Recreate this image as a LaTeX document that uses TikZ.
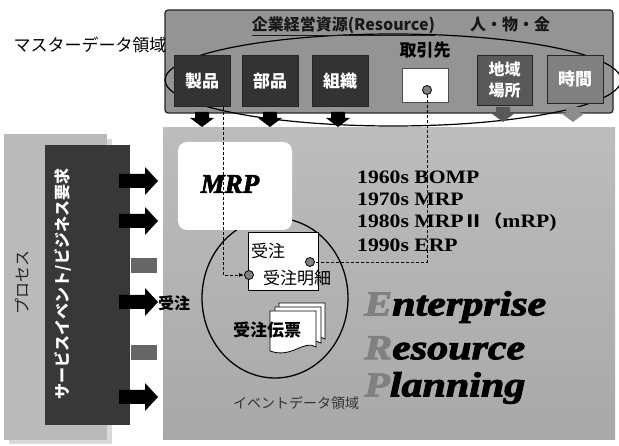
\documentclass[tikz,border=0pt]{standalone}
\usepackage{fontspec}
\setmainfont{Liberation Serif}
\newfontfamily\jp{Noto Sans CJK JP}
\newfontfamily\erp{Liberation Serif}[BoldItalicFeatures={FakeBold=2.5}]
\usetikzlibrary{calc,arrows.meta}

\newcommand\rarrow[3]{\fill[#3] (#1,#2-7) -- (#1+26,#2-7) -- (#1+26,#2-14) -- (#1+39,#2) -- (#1+26,#2+14) -- (#1+26,#2+7) -- (#1,#2+7) -- cycle;}
\newcommand\darrow[3]{\fill[#3] (#1-7,#2) -- (#1+7,#2) -- (#1+7,#2+6) -- (#1+12,#2+6) -- (#1,#2+15) -- (#1-12,#2+6) -- (#1-7,#2+6) -- cycle;}
\newcommand\docsheet[2]{\filldraw[fill=white,draw=black,line width=0.8pt] (#1,#2) -- (#1+46,#2) -- (#1+46,#2+36) .. controls (#1+34,#2+28) and (#1+22,#2+48) .. (#1,#2+40) -- cycle;}

\tikzset{
  darkbox/.style={draw=black!85, fill=black!80, line width=0.8pt, minimum width=56pt, minimum height=51pt, inner sep=0pt},
  wlabel/.style={text=white, font=\jp\bfseries\fontsize{17}{20}\selectfont, align=center},
  jplabel/.style={font=\jp\fontsize{17}{19}\selectfont},
  jpbold/.style={font=\jp\bfseries\fontsize{16}{18}\selectfont},
  dotmark/.style={circle, draw=black, fill=black!50, inner sep=0pt, minimum size=9pt, line width=0.8pt},
  link/.style={line width=0.9pt, dash pattern=on 3pt off 2pt},
  era/.style={anchor=west, font=\bfseries\fontsize{19}{21}\selectfont, xscale=1.14, inner sep=0pt},
  erpword/.style={anchor=west, font=\erp\bfseries\itshape\fontsize{35}{38}\selectfont, xscale=1.2, inner sep=0pt},
}

\begin{document}
\begin{tikzpicture}[x=1pt,y=-1pt]
\useasboundingbox (0,0) rectangle (619,446);
\fill[white] (0,0) rectangle (619,446);

% ---- left process panel
\fill[black!15] (9,139) rectangle (112,444);
\fill[black!27] (4,134) rectangle (107,440);
\node[fill=black!78, minimum width=85pt, minimum height=280pt, inner sep=0pt] (req) at (87.5,285) {};
\node[rotate=90, text=white, font=\jp\bfseries\fontsize{16}{18}\selectfont] (reqlabel) at (63,284) {サービスイベント/ビジネス要求};
\node[rotate=90, font=\jp\fontsize{16}{18}\selectfont, text=black!85] (proc) at (22,283) {プロセス};

% ---- main panel
\shade[top color=black!26, bottom color=black!34] (163,128) rectangle (615,440);
\node[minimum width=452pt, minimum height=312pt, inner sep=0pt] (main) at (389,284) {};

% arrows from the request box
\rarrow{119}{181}{black}
\rarrow{119}{221}{black}
\rarrow{119}{302}{black}
\rarrow{119}{397}{black}
\fill[black!60] (131,258) rectangle (157,273);
\fill[black!60] (131,345) rectangle (157,360);
\node[jpbold, anchor=west, inner sep=0pt] (juchuin) at (158,303) {受注};

% ---- event circle (behind MRP box)
\draw[line width=1.3pt] (275,298) ellipse [x radius=73, y radius=80];

% MRP box
\node[fill=white, rounded corners=9pt, minimum width=114pt, minimum height=88pt, inner sep=0pt] (mrpbox) at (235,186) {};
\node[font=\erp\bfseries\itshape\fontsize{27}{29}\selectfont] (mrp) at (230,184) {MRP};

% ---- master data panel
\node[draw=black!85, line width=1.2pt, fill=black!42, rounded corners=3pt, minimum width=448pt, minimum height=103pt, inner sep=0pt] (master) at (389,61.5) {};
\draw[line width=1.2pt] (393,80) ellipse [x radius=228, y radius=46];
\node[font=\jp\bfseries\fontsize{16}{18}\selectfont, text=black!90] (title) at (401,26) {\underline{企業経営資源(Resource)}\hspace{2.2em}人・物・金};
\node[font=\jp\fontsize{17}{19}\selectfont] (masterlabel) at (90,45) {マスターデータ領域};

\node[darkbox] (seihin) at (202,81) {};
\node[wlabel] at (seihin) {製品};
\node[darkbox] (buhin) at (270,81) {};
\node[wlabel] at (buhin) {部品};
\node[darkbox] (soshiki) at (340,81) {};
\node[wlabel] at (soshiki) {組織};
\node[darkbox, fill=black!65, minimum width=55pt, minimum height=50pt] (chiiki) at (504.5,80) {};
\node[wlabel, font=\jp\bfseries\fontsize{16}{21}\selectfont] at (chiiki) {地域\\場所};
\node[darkbox, fill=black!50, minimum width=56pt, minimum height=48pt] (jikan) at (575,79) {};
\node[wlabel] at (jikan) {時間};

\node[jpbold, font=\jp\bfseries\fontsize{17}{19}\selectfont] (torihikilabel) at (425,50) {取引先};
\node[fill=white, draw=black!70, line width=0.6pt, minimum width=46pt, minimum height=34pt, inner sep=0pt] (torihiki) at (425.5,85.5) {};
\node[dotmark] (dot3) at (427,90) {};

% down arrows
\darrow{202}{112}{black}
\darrow{270}{112}{black}
\darrow{338}{112}{black}
\darrow{503}{107}{black!65}
\darrow{573}{107}{black!45}

% ---- order box
\node[fill=white, draw=black, line width=0.9pt, minimum width=70pt, minimum height=58pt, inner sep=0pt] (juchu) at (283,261) {};
\node[jplabel] at (268,251) {受注};
\node[jplabel] at (297,278) {受注明細};
\node[dotmark] (dot1) at (249,275) {};
\node[dotmark] (dot2) at (310,262) {};

% dashed links
\coordinate (seihinout) at ($(seihin.south east)+(-7,0)$);
\draw[link, -{Latex[length=5pt,width=4pt]}] (seihinout) |- (dot1.west);
\draw[link] (dot3.south) |- (dot2.east);

% documents
\docsheet{279}{303}
\docsheet{275}{307}
\docsheet{270}{311}
\node[jpbold, font=\jp\bfseries\fontsize{17}{19}\selectfont] (denpyo) at (267,330) {受注伝票};

\node[font=\jp\fontsize{14}{16}\selectfont, text=black!80] (eventlabel) at (296,403) {イベントデータ領域};

% ---- timeline
\node[era] (e60) at (357,177) {1960s BOMP};
\node[era] (e70) at (357,199) {1970s MRP};
\node[era] (e80) at (357,222) {1980s MRP{\jp\fontsize{17}{19}\selectfont Ⅱ（}mRP)};
\node[era] (e90) at (357,245) {1990s ERP};

% ---- ERP words
\node[erpword] (ent) at (364,307) {\textcolor{black!50}{E}nterprise};
\node[erpword] (res) at (364,348) {\textcolor{black!50}{R}esource};
\node[erpword] (pla) at (364,388) {\textcolor{black!50}{P}lanning};
\end{tikzpicture}
\end{document}
